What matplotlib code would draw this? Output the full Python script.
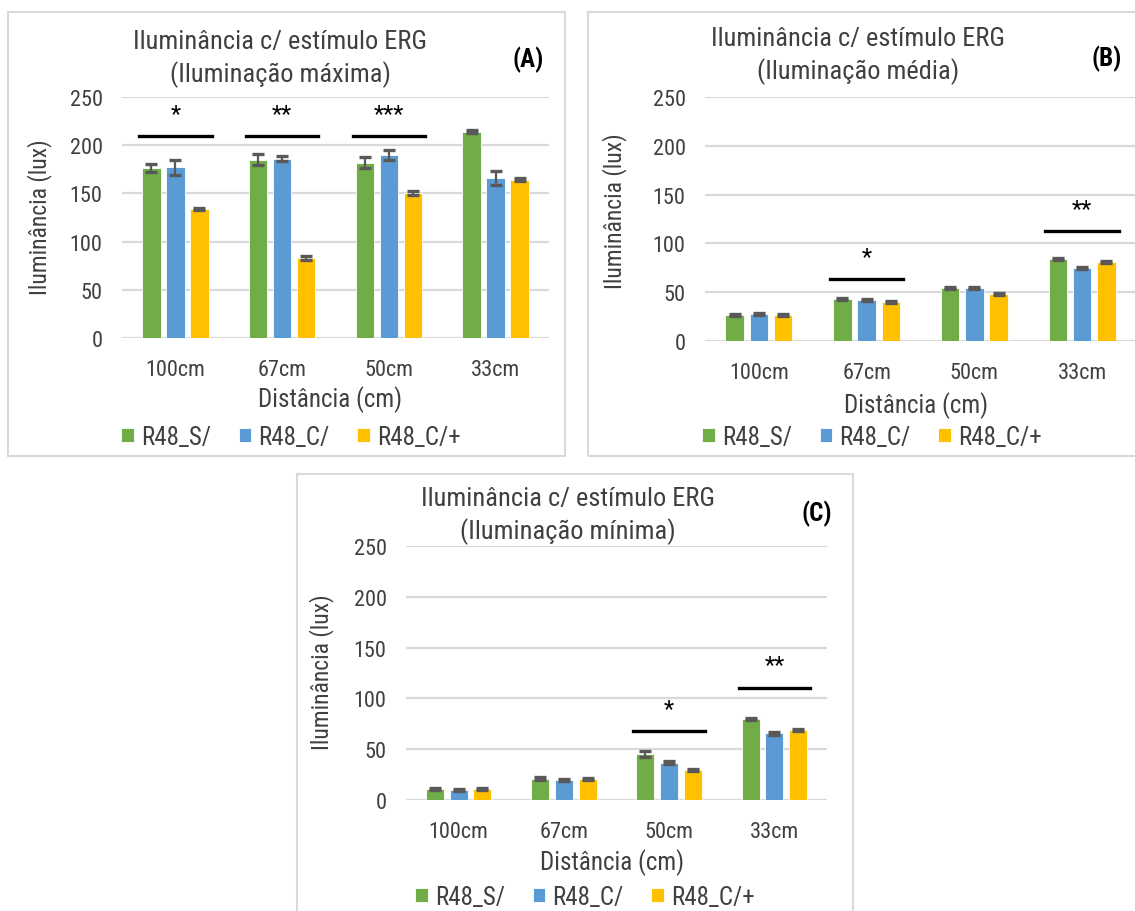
import matplotlib
matplotlib.use("Agg")
import matplotlib.pyplot as plt
from matplotlib.patches import Rectangle
from matplotlib import font_manager

# --- dados ---
distancias = ["100cm", "67cm", "50cm", "33cm"]
series = ["R48_S/", "R48_C/", "R48_C/+"]
cores = ["#70AD47", "#5B9BD5", "#FFC000"]

# (A) iluminação máxima
max_S = [176, 185, 182, 214]
max_C = [177, 186, 190, 166]
max_Cp = [134, 83, 150, 164]
max_S_err = [4, 6, 6, 1.5]
max_C_err = [8, 2.5, 5, 7.5]
max_Cp_err = [1, 2, 2, 1.5]
max_sig_cat = [0, 1, 2]
max_sig_y = [210, 210, 210]
max_sig_txt = ["*", "**", "***"]

# (B) iluminação média
med_S = [26.5, 43, 54.5, 83.6]
med_C = [27.3, 42, 54.5, 74.7]
med_Cp = [27, 39.5, 48, 80.5]
med_S_err = [1, 1, 1, 1]
med_C_err = [1, 1, 1, 1]
med_Cp_err = [1, 1, 1, 1]
med_sig_cat = [1, 3]
med_sig_y = [64, 112.5]
med_sig_txt = ["*", "**"]

# (C) iluminação mínima
min_S = [10.5, 21, 45.5, 80]
min_C = [9.5, 19.5, 36.5, 65.5]
min_Cp = [10.5, 20.5, 29.5, 68.7]
min_S_err = [1, 1.5, 3, 1]
min_C_err = [1, 1, 1.5, 1.5]
min_Cp_err = [1, 1, 1, 1]
min_sig_cat = [2, 3]
min_sig_y = [67.5, 110]
min_sig_txt = ["*", "**"]

W, H = 1135, 912
TXT = "#404040"

# fonte estreita, parecida com a do Excel original
nomes = set(f.name for f in font_manager.fontManager.ttflist)
candidatas = ["Liberation Sans Narrow", "Roboto Condensed", "Archivo Narrow",
              "PT Sans Narrow", "Open Sans Condensed", "Liberation Sans"]
fonte = next((c for c in candidatas if c in nomes), "DejaVu Sans")
plt.rcParams["font.family"] = [fonte, "DejaVu Sans"]

fig = plt.figure(figsize=(W / 100, H / 100), dpi=100)


def fx(x):
    return x / W


def fy(y):
    return 1 - y / H


def painel(frame, box, titulo, letra, tit_pos, letra_pos, ylab_pos, xlab_pos, leg_pos,
           vals, errs, sig_cat, sig_y, sig_txt):
    # moldura do gráfico
    l, t, r, b = frame
    fig.add_artist(Rectangle((fx(l), fy(b)), fx(r - l), (b - t) / H, transform=fig.transFigure,
                             fill=False, edgecolor="#D9D9D9", lw=1.5))
    al, at, ar, ab = box
    ax = fig.add_axes([fx(al), fy(ab), fx(ar - al), (ab - at) / H])
    ax.set_xlim(-0.5, 3.5)
    ax.set_ylim(0, 250)
    ax.set_yticks(range(0, 251, 50))
    ax.yaxis.grid(True, color="#D9D9D9", lw=1.6)
    ax.set_axisbelow(True)
    for s in ax.spines.values():
        s.set_visible(False)
    ax.tick_params(length=0, labelsize=16, colors=TXT)
    ax.tick_params(axis="x", pad=15)
    ax.tick_params(axis="y", pad=14)
    ax.set_xticks(range(len(distancias)))
    ax.set_xticklabels(distancias)

    offs = [-0.225, 0, 0.225]
    handles = []
    for k in range(3):
        xs = [i + offs[k] for i in range(len(distancias))]
        h = ax.bar(xs, vals[k], width=0.172, color=cores[k], edgecolor="white", lw=0.6,
                   label=series[k], zorder=2)
        ax.errorbar(xs, vals[k], yerr=errs[k], fmt="none", ecolor="#595959",
                    elinewidth=1.6, capsize=4.5, capthick=2.4, zorder=3)
        handles.append(h)

    for c, y, s in zip(sig_cat, sig_y, sig_txt):
        ax.plot([c - 0.34, c + 0.34], [y, y], color="black", lw=2.4, zorder=4)
        ax.text(c, y + 23, s, ha="center", va="center", fontsize=17, color="black")

    fig.text(fx(tit_pos[0]), fy(tit_pos[1]), titulo, ha="center", va="center",
             fontsize=19, color=TXT, linespacing=1.3)
    fig.text(fx(letra_pos[0]), fy(letra_pos[1]), letra, ha="center", va="center",
             fontsize=18, fontweight="bold", color="black")
    fig.text(fx(ylab_pos[0]), fy(ylab_pos[1]), "Iluminância (lux)", rotation=90,
             ha="center", va="center", fontsize=17, color=TXT)
    fig.text(fx(xlab_pos[0]), fy(xlab_pos[1]), "Distância (cm)", ha="center", va="center",
             fontsize=18, color=TXT)
    fig.legend(handles=handles, loc="center", bbox_to_anchor=(fx(leg_pos[0]), fy(leg_pos[1])),
               ncol=3, frameon=False, fontsize=18, handlelength=0.5, handleheight=0.5,
               handletextpad=0.3, columnspacing=1.1, labelcolor=TXT)
    return ax


painel((8, 13, 565, 457), (122, 98, 549, 339),
       "Iluminância c/ estímulo ERG\n(Iluminação máxima)", "(A)",
       (280, 59), (528, 60), (40, 217), (330, 400), (291, 438),
       [max_S, max_C, max_Cp], [max_S_err, max_C_err, max_Cp_err],
       max_sig_cat, max_sig_y, max_sig_txt)

painel((588, 13, 1160, 457), (705, 98, 1136, 342),
       "Iluminância c/ estímulo ERG\n(Iluminação média)", "(B)",
       (858, 56), (1107, 59), (615, 211), (916, 406), (872, 438),
       [med_S, med_C, med_Cp], [med_S_err, med_C_err, med_Cp_err],
       med_sig_cat, med_sig_y, med_sig_txt)

painel((297, 475, 853, 930), (406, 547, 827, 801),
       "Iluminância c/ estímulo ERG\n(Iluminação mínima)", "(C)",
       (568, 516), (817, 514), (322, 672), (612, 863), (585, 898),
       [min_S, min_C, min_Cp], [min_S_err, min_C_err, min_Cp_err],
       min_sig_cat, min_sig_y, min_sig_txt)

plt.savefig("out.png", dpi=100)
plt.close()
